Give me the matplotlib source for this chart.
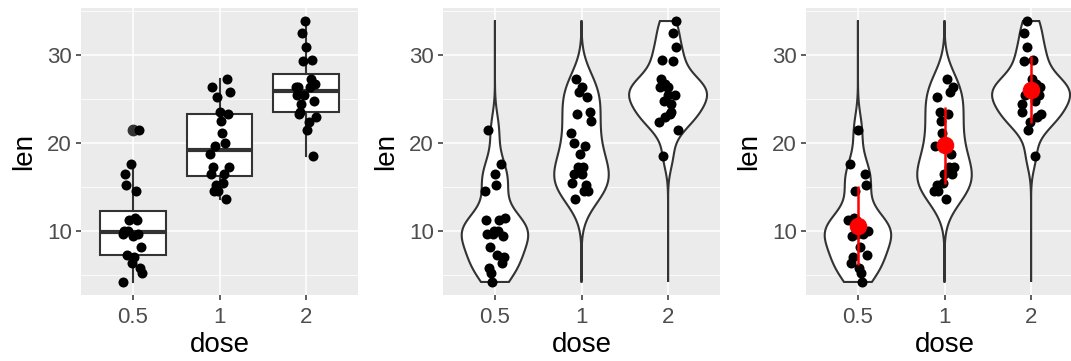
import matplotlib.pyplot as plt
import numpy as np

# ToothGrowth: tooth length by vitamin C dose
dose_labels = ["0.5", "1", "2"]
len_05 = [4.2, 11.5, 7.3, 5.8, 6.4, 10.0, 11.2, 11.2, 5.2, 7.0,
          15.2, 21.5, 17.6, 9.7, 14.5, 10.0, 8.2, 9.4, 16.5, 9.7]
len_1 = [16.5, 16.5, 15.2, 17.3, 22.5, 17.3, 13.6, 14.5, 18.8, 15.5,
         19.7, 23.3, 23.6, 26.4, 20.0, 25.2, 25.8, 21.2, 14.5, 27.3]
len_2 = [23.6, 18.5, 33.9, 25.5, 26.4, 32.5, 26.7, 21.5, 23.3, 29.5,
         25.5, 26.4, 22.4, 24.5, 24.8, 30.9, 26.4, 27.3, 29.4, 23.0]
groups = [np.array(len_05), np.array(len_1), np.array(len_2)]

plt.rcParams['font.family'] = ['Liberation Sans', 'DejaVu Sans']

BG = '#EBEBEB'
DARK = '#333333'
pos = np.arange(1, 4)


def jitter(n, shift, amount=0.12):
    # deterministic low-discrepancy jitter (no random numbers)
    return ((np.arange(n) * 0.6180339887 + shift) % 1.0 - 0.5) * 2 * amount


def bw_nrd0(x):
    q75, q25 = np.percentile(x, [75, 25])
    lo = min(np.std(x, ddof=1), (q75 - q25) / 1.34)
    return 0.9 * lo * len(x) ** -0.2


def kde(x, grid):
    bw = bw_nrd0(x)
    z = (grid[:, None] - x[None, :]) / bw
    return np.exp(-0.5 * z ** 2).sum(axis=1) / (len(x) * bw * np.sqrt(2 * np.pi))


def style(ax):
    ax.set_facecolor(BG)
    ax.set_xlim(0.4, 3.6)
    ax.set_ylim(2.715, 35.385)
    ax.set_yticks([10, 20, 30])
    ax.set_yticks([5, 15, 25, 35], minor=True)
    ax.set_xticks(pos)
    ax.set_xticklabels(dose_labels)
    ax.grid(True, which='major', color='white', lw=1.1)
    ax.grid(True, which='minor', axis='y', color='white', lw=0.55)
    ax.set_axisbelow(True)
    for s in ax.spines.values():
        s.set_visible(False)
    ax.tick_params(axis='both', which='major', length=3.5, width=1.1,
                   color=DARK, labelcolor='#4D4D4D', labelsize=16, pad=3)
    ax.tick_params(axis='x', which='major', pad=5)
    ax.tick_params(axis='both', which='minor', length=0)
    ax.set_xlabel('dose', fontsize=20, labelpad=3)
    ax.set_ylabel('len', fontsize=20, labelpad=7)


def violins(ax):
    grid = np.linspace(min(g.min() for g in groups), max(g.max() for g in groups), 512)
    dens = [kde(g, grid) for g in groups]
    dmax = max(d.max() for d in dens)
    for p, d in zip(pos, dens):
        w = d / dmax * 0.45
        xs = np.concatenate([p - w, (p + w)[::-1]])
        ys = np.concatenate([grid, grid[::-1]])
        ax.fill(xs, ys, facecolor='white', edgecolor=DARK, lw=1.5, zorder=2)


fig = plt.figure(figsize=(10.71, 3.61), dpi=100)
W, H = 1071, 361
top, bottom = 8, 295
pw = 277
lefts = [81, 443, 806]
axes = [fig.add_axes([l / W, (H - bottom) / H, pw / W, (bottom - top) / H]) for l in lefts]

# panel 1: boxplot + jitter
ax = axes[0]
style(ax)
ax.boxplot(groups, positions=pos, widths=0.76, patch_artist=True, whis=1.5,
           boxprops=dict(facecolor='white', edgecolor=DARK, lw=1.5),
           medianprops=dict(color=DARK, lw=3.0),
           whiskerprops=dict(color=DARK, lw=1.5),
           capprops=dict(lw=0),
           flierprops=dict(marker='o', markerfacecolor=DARK, markeredgecolor=DARK,
                           markersize=7.5),
           manage_ticks=False, zorder=2)
for i, (p, g) in enumerate(zip(pos, groups)):
    ax.scatter(p + jitter(len(g), 0.11 * i), g, s=52, color='black', zorder=3, lw=0)

# panel 2: violin + jitter
ax = axes[1]
style(ax)
violins(ax)
for i, (p, g) in enumerate(zip(pos, groups)):
    ax.scatter(p + jitter(len(g), 0.37 + 0.13 * i), g, s=52, color='black', zorder=3, lw=0)

# panel 3: violin + jitter + mean +/- sd
ax = axes[2]
style(ax)
violins(ax)
for i, (p, g) in enumerate(zip(pos, groups)):
    ax.scatter(p + jitter(len(g), 0.71 + 0.17 * i), g, s=52, color='black', zorder=3, lw=0)
    m, sd = g.mean(), g.std(ddof=1)
    ax.plot([p, p], [m - sd, m + sd], color='red', lw=1.8, zorder=4, solid_capstyle='butt')
    ax.scatter([p], [m], s=160, color='red', zorder=5, lw=0)

fig.savefig('out.png', dpi=100)
